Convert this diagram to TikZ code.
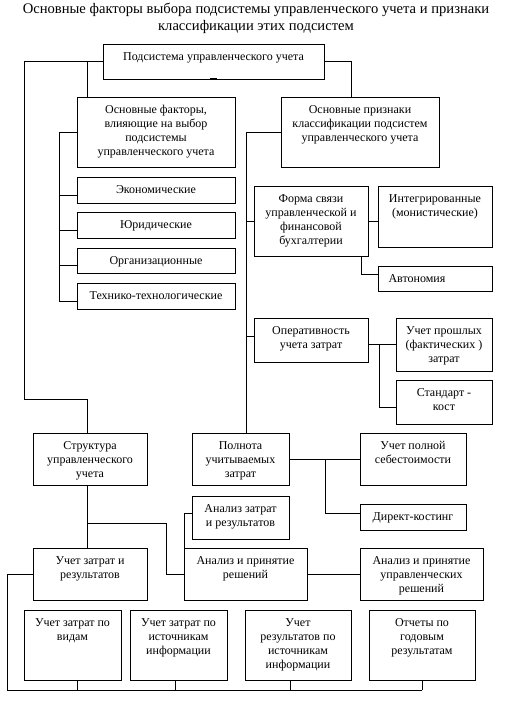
\documentclass[tikz,border=0pt]{standalone}
\usepackage{fontspec}
\setmainfont{Liberation Serif}
\tikzset{
  boxshape/.style={draw, line width=0.8pt, inner sep=0pt, outer sep=0pt, anchor=north west},
  boxtext/.style={anchor=north, align=center, inner sep=0pt, font=\fontsize{12}{14}\selectfont},
  conn/.style={line width=0.8pt}
}
% #1 text xshift, #2 name, #3 x1, #4 y1, #5 x2, #6 y2, #7 text
\newcommand{\mybx}[7][0]{%
  \node[boxshape, minimum width=#5pt-#3pt, minimum height=#6pt-#4pt] (#2) at (#3,#4) {};
  \node[boxtext, xshift=#1pt, yshift=-6.7pt] (#2-t) at (#2.north) {\strut #7};
}
\begin{document}
\begin{tikzpicture}[x=1pt,y=-1pt]
\useasboundingbox[fill=white] (0,0) rectangle (505,705);

\node[anchor=north, align=center, inner sep=0pt, font=\fontsize{14.6}{17}\selectfont] (title) at (256,2.5)
  {Основные факторы выбора подсистемы управленческого учета и признаки\\классификации этих подсистем};

\mybx{top}{103}{44}{324}{79}{Подсистема управленческого учета}
\mybx{fac}{77}{97}{235}{167}{Основные факторы,\\влияющие на выбор\\подсистемы\\управленческого учета}
\mybx{priz}{281}{97}{439}{167}{Основные признаки\\классификации подсистем\\управленческого учета}
\mybx{econ}{77}{177}{235}{203}{Экономические}
\mybx{jur}{77}{212}{235}{238}{Юридические}
\mybx{org}{77}{248}{235}{273}{Организационные}
\mybx{tech}{77}{283}{235}{309}{Технико-технологические}
\mybx{forma}{254}{186}{368}{256}{Форма связи\\управленческой и\\финансовой\\бухгалтерии}
\mybx{integ}{378}{186}{492}{247}{Интегрированные\\(монистические)}
\mybx[-18]{avt}{378}{266}{492}{291}{Автономия}
\mybx{oper}{254}{318}{368}{362}{Оперативность\\учета затрат}
\mybx{past}{396}{318}{492}{371}{Учет прошлых\\(фактических )\\затрат}
\mybx{std}{396}{380}{492}{424}{Стандарт -\\кост}
\mybx{strukt}{33}{433}{147}{485}{Структура\\управленческого\\учета}
\mybx{poln}{192}{433}{289}{485}{Полнота\\учитываемых\\затрат}
\mybx{full}{360}{433}{466}{485}{Учет полной\\себестоимости}
\mybx{direct}{360}{504}{466}{530}{Директ-костинг}
\mybx{azr}{192}{496}{289}{539}{Анализ затрат\\и результатов}
\mybx{uzr}{33}{548}{147}{600}{Учет затрат и\\результатов}
\mybx{apr}{184}{548}{307}{600}{Анализ и принятие\\решений}
\mybx{aupr}{360}{548}{483}{600}{Анализ и принятие\\управленческих\\решений}
\mybx{b1}{24}{610}{121}{680}{Учет затрат по\\видам}
\mybx{b2}{130}{610}{227}{680}{Учет затрат по\\источникам\\информации}
\mybx{b3}{245}{610}{351}{680}{Учет\\результатов по\\источникам\\информации}
\mybx{b4}{369}{610}{475}{680}{Отчеты по\\годовым\\результатам}

% small tick under top box
\draw[line width=1.5pt] ([xshift=-4]top.south) -- ([xshift=3]top.south);

% connectors
\coordinate (jL) at (24,61.5);
\draw[conn] (top.west) -- (jL) -- (24,399) -| ([xshift=-3]strukt.north);
\draw[conn] ([xshift=10]fac.north west) -- ([xshift=10]fac.north west |- top.west);
\draw[conn] (top.east) -| ([xshift=-9]priz.north);

\coordinate (jF) at (59,132);
\draw[conn] (fac.west) -- (jF) |- ([yshift=-5]tech.west);
\foreach \n in {econ,jur,org} \draw[conn] ([yshift=-5]\n.west) -- ++(-18,0);

\coordinate (jP) at (246,132);
\draw[conn] (priz.west) -- (jP) -- (jP |- poln.north);
\draw[conn] (forma.west) -- ++(-8,0);
\draw[conn] ([yshift=4]oper.west) -- ++(-8,0);
\draw[conn] (forma.east) -- (forma.east -| integ.west);
\draw[conn] ([xshift=-7]forma.south east) |- ([yshift=4.5]avt.west);
\draw[conn] (past.west -| oper.east) -- (past.west);
\coordinate (jS) at (379,344.5);
\draw[conn] (jS) |- ([yshift=-5]std.west);

\draw[conn] (poln.east) -- (full.west);
\coordinate (jD) at (325,459);
\draw[conn] (jD) |- ([yshift=4]direct.west);

\draw[conn] ([xshift=-3]strukt.south) -- ([xshift=-3]uzr.north);
\coordinate (jA) at (87,523);
\draw[conn] (jA) -| ([xshift=-18]apr.west) -- (apr.west);
\draw[conn] ([yshift=4.5]azr.west) -| (apr.north west);
\draw[conn] (apr.east) -- (aupr.west);

\coordinate (jB) at (7,690);
\draw[conn] (uzr.west) -| (jB) -- (b4.south |- jB);
\draw[conn] ([xshift=4.5]b1.south) -- ++(0,10);
\draw[conn] ([xshift=-3.5]b2.south) -- ++(0,10);
\draw[conn] ([xshift=-8]b3.south) -- ++(0,10);
\draw[conn] (b4.south) -- ++(0,10);
\end{tikzpicture}
\end{document}
